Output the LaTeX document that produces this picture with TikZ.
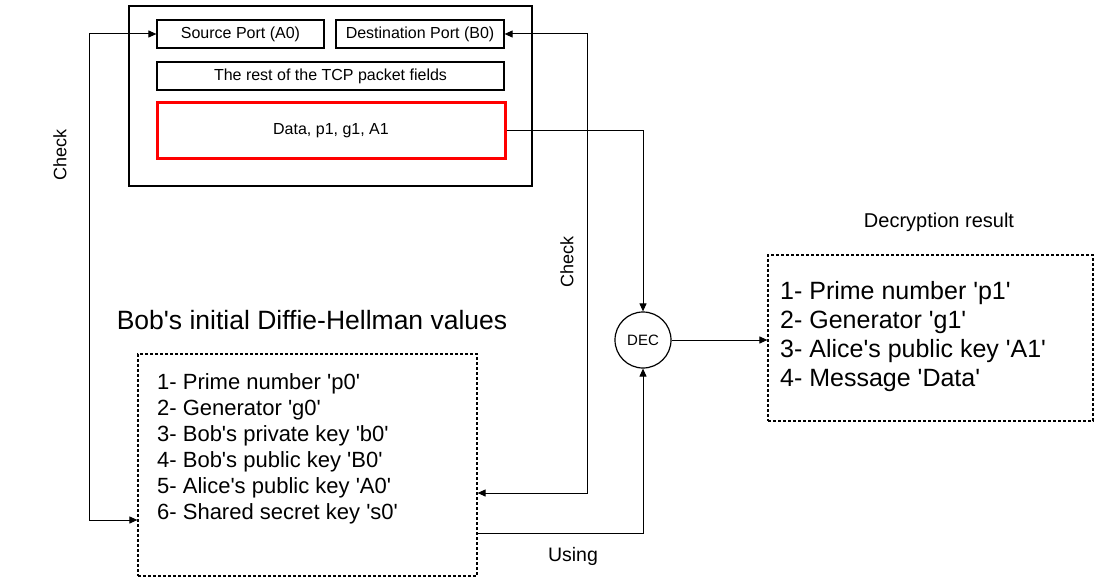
\documentclass[tikz,border=0pt]{standalone}
\usepackage{fontspec}
\setmainfont{Liberation Sans}[Ligatures=TeXOff]
\usetikzlibrary{arrows.meta}

\begin{document}
\begin{tikzpicture}[x=1pt,y=-1pt,
    field/.style={draw=black,line width=1.2pt,inner sep=0pt,font=\fontsize{16}{19}\selectfont},
    dotbox/.style={draw=black,line width=1.2pt,dash pattern=on 3pt off 2pt,inner sep=0pt},
    link/.style={draw=black,line width=1pt,-{Triangle[length=8pt,width=7pt]}},
    biglink/.style={draw=black,line width=1pt,{Triangle[length=8pt,width=7pt]}-{Triangle[length=8pt,width=7pt]}}]
    \useasboundingbox (0,0) rectangle (1094,577);
           % TCP packet
           \node[draw=black,line width=1.2pt,minimum width=403pt,minimum height=180pt] (packet) at (330.5,96) {};
           \node[field,minimum width=167pt,minimum height=28pt] (src) at (240.5,34) {Source Port (A0)};
           \node[field,minimum width=168pt,minimum height=28pt] (dst) at (420,34) {Destination Port (B0)};
           \node[field,minimum width=347pt,minimum height=28pt] (rest) at (330.5,76) {The rest of the TCP packet fields};
           \node[field,draw=red,line width=3pt,minimum width=348pt,minimum height=56pt] (data) at (331,131) {Data, p1, g1, A1};
           % decryption
           \node[circle,draw=black,line width=1.2pt,minimum size=56pt,inner sep=0pt,font=\fontsize{15}{18}\selectfont] (dec) at (643,340) {DEC};
           % Bob's values
           \node[font=\fontsize{26.5}{30}\selectfont] (bobtitle) at (312,320) {Bob's initial Diffie-Hellman values};
           \node[dotbox,minimum width=339pt,minimum height=222pt] (bob) at (307.5,465) {};
           \node[anchor=west,align=left,inner sep=0pt,font=\fontsize{22}{26}\selectfont] (boblist) at (157,449) {1- Prime number 'p0'\\2- Generator 'g0'\\3- Bob's private key 'b0'\\4- Bob's public key 'B0'\\5- Alice's public key 'A0'\\6- Shared secret key 's0'};
           % result
           \node[font=\fontsize{20}{24}\selectfont] (restitle) at (939,222) {Decryption result};
           \node[dotbox,minimum width=325pt,minimum height=166pt] (res) at (930.5,338) {};
           \node[anchor=west,align=left,inner sep=0pt,font=\fontsize{25}{29}\selectfont] (reslist) at (780,337) {1- Prime number 'p1'\\2- Generator 'g1'\\3- Alice's public key 'A1'\\4- Message 'Data'};
           % connectors
           \coordinate (lc) at (89,520);
           \coordinate (rc) at (587,493);
           \coordinate (us) at (477,533);
           \draw[biglink] (src.west) -| (lc) -- (lc -| bob.west);
           \draw[biglink] (dst.east) -| (rc) -- (rc -| bob.east);
           \draw[link] (data.east) -| (dec.north);
           \draw[link] (us) -| (dec.south);
           \draw[link] (dec.east) -- (dec.east -| res.west);
           % labels
           \node[rotate=90,font=\fontsize{18}{21}\selectfont] (check1) at (60,155) {Check};
           \node[rotate=90,font=\fontsize{18}{21}\selectfont] (check2) at (567,262) {Check};
           \node[font=\fontsize{19.5}{23}\selectfont] (using) at (573,556) {Using};
        \end{tikzpicture}
\end{document}
